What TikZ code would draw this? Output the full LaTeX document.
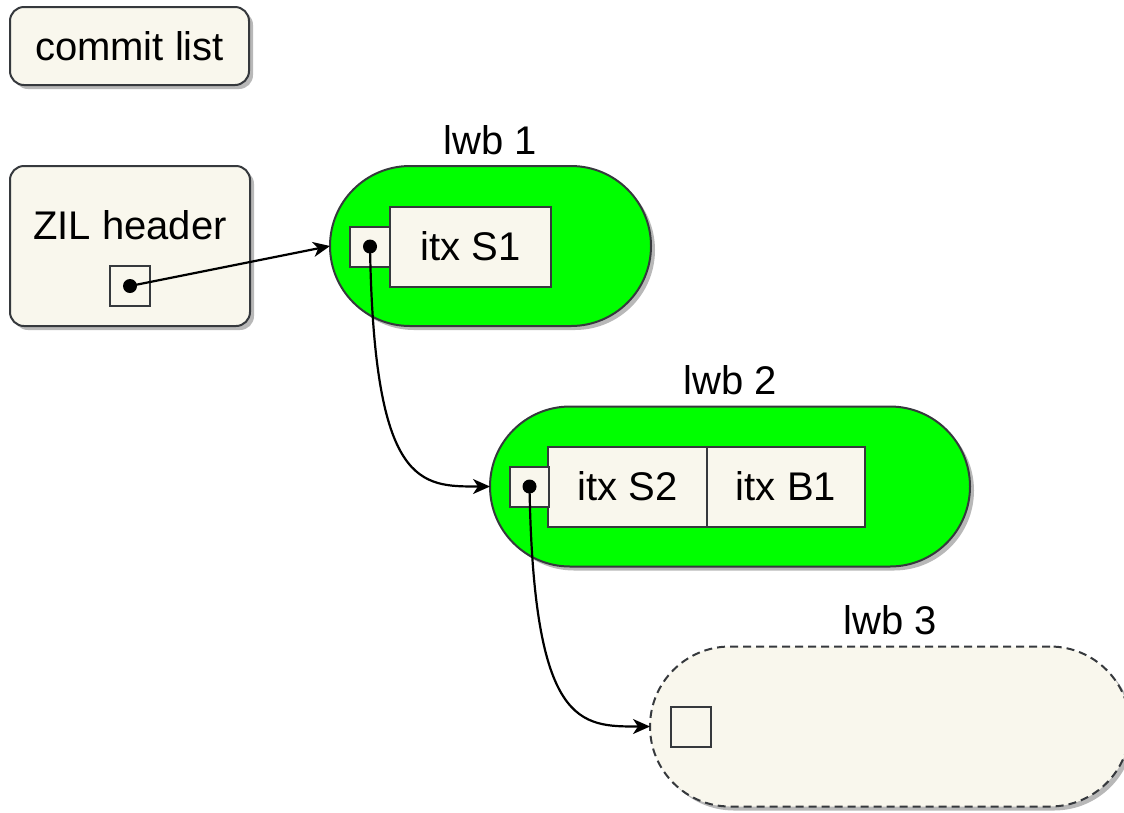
\documentclass[tikz,border=0pt]{standalone}
\usepackage{fontspec}
\setmainfont{Liberation Sans}
\usetikzlibrary{shadows,arrows.meta,calc}

\definecolor{paper}{HTML}{F9F7ED}
\definecolor{ink}{HTML}{36393D}
\definecolor{lime}{HTML}{00FF00}

\tikzset{
  x=1pt, y=-1pt,
  every node/.style={font=\fontsize{40}{44}\selectfont, inner sep=0pt, outer sep=0pt},
  softshadow/.style={drop shadow={shadow xshift=4pt, shadow yshift=-4pt, fill=black, opacity=0.28}},
  card/.style={draw=ink, line width=2pt, fill=paper, rounded corners=14pt, softshadow},
  pill/.style={draw=ink, line width=2pt, rounded corners=80pt, minimum height=160pt, softshadow},
  cell/.style={draw=ink, line width=2pt, fill=paper},
  ptrbox/.style={cell, minimum width=40pt, minimum height=40pt},
  link/.style={line width=2.2pt, -{Stealth[length=17pt, width=15pt, inset=5pt]}},
  plain/.style={text=black}
}

\begin{document}
\begin{tikzpicture}
\useasboundingbox (0,0) rectangle (1124,812);
\clip (0,0) rectangle (1124,812);

% commit list
\node[card, minimum width=239pt, minimum height=78pt] (commit) at (129.5,46) {commit list};

% ZIL header with its pointer slot
\node[card, minimum width=240pt, minimum height=160pt] (zil) at (130,246) {};
\node[plain] (zilText) at (130,225) {ZIL header};
\node[ptrbox] (zilPtr) at (130,286) {};

% lwb 1
\node[pill, fill=lime, minimum width=321pt] (lwb1) at (490.5,246) {};
\node[plain] (lwb1Lbl) at (490,140) {lwb 1};
\node[cell, minimum width=161pt, minimum height=80pt] (s1) at (470.5,246.5) {itx S1};
\node[ptrbox] (p1) at (370,246.5) {};

% lwb 2
\node[pill, fill=lime, minimum width=480pt] (lwb2) at (730,486.5) {};
\node[plain] (lwb2Lbl) at (730,380) {lwb 2};
\node[cell, minimum width=159pt, minimum height=80pt] (s2) at (627.5,486.5) {itx S2};
\node[cell, minimum width=158pt, minimum height=80pt] (b1) at (786,486.5) {itx B1};
\node[ptrbox, minimum width=39pt] (p2) at (529.5,486.5) {};

% lwb 3 (not yet written)
\node[pill, fill=paper, dash pattern=on 8pt off 5pt, minimum width=480pt] (lwb3) at (890,726.5) {};
\node[plain] (lwb3Lbl) at (890,620) {lwb 3};
\node[ptrbox] (p3) at (690.5,727) {};

% pointer chain
\fill (zilPtr.center) circle (7pt);
\draw[link] (zilPtr.center) -- (lwb1.west);

\fill (p1.center) circle (7pt);
\draw[link] (p1.center) .. controls ($(p1.center)+(4,241)$) and ($(lwb2.west)+(-70,0)$) .. (lwb2.west);

\fill (p2.center) circle (7pt);
\draw[link] (p2.center) .. controls ($(p2.center)+(4,241)$) and ($(lwb3.west)+(-70,0)$) .. (lwb3.west);
\end{tikzpicture}
\end{document}
